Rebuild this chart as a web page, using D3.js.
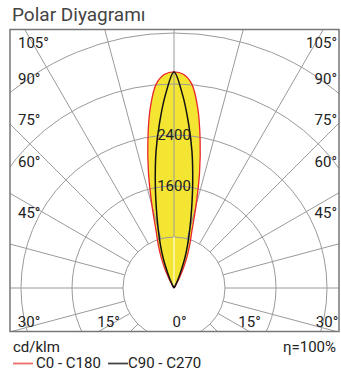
<!DOCTYPE html>
<html>
<head>
<meta charset="utf-8">
<script src="https://cdn.jsdelivr.net/npm/d3@7"></script>
<style>
  body { margin: 0; background: #fff; }
  text { font-family: Roboto, "Noto Sans", sans-serif; }
</style>
</head>
<body>
<script>
// beam data, cd/klm against angle from the axis (symmetric planes)
const angles   = [0, 2.5, 5, 7.5, 10, 12.5, 15, 17.5, 20, 22.5, 25, 27.5, 30, 32.5, 35];
const c0c180   = [3390, 3355, 3210, 2850, 2360, 1850, 1330, 930, 720, 540, 360, 200, 90, 30, 0];
const c90c270  = [3390, 3040, 2600, 2160, 1690, 1280, 960, 710, 490, 280, 150, 60, 10, 0, 0];

const ringValues = [800, 1600, 2400, 3200, 4000, 4800];
const ringLabels = [1600, 2400];
const spokeAngles = d3.range(0, 360, 15);
const sideLabels = ["105°", "90°", "75°", "60°", "45°"];
const bottomLabels = ["30°", "15°", "0°", "15°", "30°"];

const W = 341, H = 379;
const frame = {x: 10, y: 29.5, w: 329, h: 302};
const cx = 174, cy = 288;

const svg = d3.select("body").append("svg")
    .attr("width", W)
    .attr("height", H);

// title
svg.append("text")
    .attr("x", 12).attr("y", 21)
    .attr("font-size", 19)
    .attr("fill", "#444")
    .text("Polar Diyagramı");

svg.append("clipPath").attr("id", "clip")
  .append("rect")
    .attr("x", frame.x).attr("y", frame.y)
    .attr("width", frame.w).attr("height", frame.h);

const r = d3.scaleLinear().domain([0, 800]).range([0, 51]);

const plot = svg.append("g").attr("clip-path", "url(#clip)")
  .append("g")
    .attr("transform", "translate(" + cx + "," + cy + ")");

function curvePoints(vals) {
  // stop at first zero, mirror around the axis
  let n = vals.indexOf(0);
  if (n < 0) n = vals.length - 1;
  const half = d3.range(0, n + 1).map(i => [angles[i], vals[i]]);
  const left = half.slice(1).reverse().map(d => [-d[0], d[1]]);
  return left.concat(half);
}

const radial = d3.lineRadial()
    .angle(d => d[0] * Math.PI / 180)
    .radius(d => r(d[1]))
    .curve(d3.curveCatmullRom);

// fill of C0 - C180
plot.append("path")
    .attr("d", radial(curvePoints(c0c180)) + "Z")
    .attr("fill", "#f4e533");

// grid rings
plot.selectAll(".ring")
  .data(ringValues)
  .enter()
  .append("circle")
    .attr("r", d => r(d))
    .attr("fill", "none")
    .attr("stroke", "#9a9a9a")
    .attr("stroke-width", 1);

// spokes, from first ring outward
plot.selectAll(".spoke")
  .data(spokeAngles)
  .enter()
  .append("line")
    .attr("x1", d => r(800) * Math.sin(d * Math.PI / 180))
    .attr("y1", d => -r(800) * Math.cos(d * Math.PI / 180))
    .attr("x2", d => 500 * Math.sin(d * Math.PI / 180))
    .attr("y2", d => -500 * Math.cos(d * Math.PI / 180))
    .attr("stroke", "#9a9a9a")
    .attr("stroke-width", 1);

plot.append("line")
    .attr("x1", 0).attr("y1", 0)
    .attr("x2", 0).attr("y2", -r(800))
    .attr("stroke", "#fff")
    .attr("stroke-width", 1);

// curves
plot.append("path")
    .attr("d", radial(curvePoints(c0c180)))
    .attr("fill", "none")
    .attr("stroke", "#e8242c")
    .attr("stroke-width", 1.3);

plot.append("path")
    .attr("d", radial(curvePoints(c90c270)))
    .attr("fill", "none")
    .attr("stroke", "#111")
    .attr("stroke-width", 1.5);

// ring labels
plot.selectAll(".rlab")
  .data(ringLabels)
  .enter()
  .append("text")
    .attr("x", 0)
    .attr("y", d => -r(d))
    .attr("dy", "0.36em")
    .attr("text-anchor", "middle")
    .attr("font-size", 15)
    .attr("fill", "#222")
    .text(d => d);

// frame
svg.append("rect")
    .attr("x", frame.x).attr("y", frame.y)
    .attr("width", frame.w).attr("height", frame.h)
    .attr("fill", "none")
    .attr("stroke", "#777")
    .attr("stroke-width", 1.5);

// angle labels along the frame
const sideY = [48, 84, 125, 167, 218];
sideLabels.forEach(function(t, i) {
  svg.append("text").attr("x", 18).attr("y", sideY[i])
      .attr("font-size", 15).attr("fill", "#222").text(t);
  svg.append("text").attr("x", 337).attr("y", sideY[i])
      .attr("text-anchor", "end")
      .attr("font-size", 15).attr("fill", "#222").text(t);
});
const bottomX = [29, 108.5, 179.5, 249.5, 327];
bottomLabels.forEach(function(t, i) {
  svg.append("text").attr("x", bottomX[i]).attr("y", 327)
      .attr("text-anchor", "middle")
      .attr("font-size", 15).attr("fill", "#222").text(t);
});

// footer
svg.append("text").attr("x", 13).attr("y", 351.5)
    .attr("font-size", 15).attr("fill", "#222").text("cd/klm");
svg.append("text").attr("x", 336).attr("y", 351.5)
    .attr("text-anchor", "end")
    .attr("font-size", 15).attr("fill", "#222").text("η=100%");

const legend = [
  {name: "C0 - C180", color: "#f06a6a", x: 13, gap: 23},
  {name: "C90 - C270", color: "#444", x: 108, gap: 20}
];
legend.forEach(function(d) {
  svg.append("line")
      .attr("x1", d.x).attr("x2", d.x + 20)
      .attr("y1", 363.5).attr("y2", 363.5)
      .attr("stroke", d.color).attr("stroke-width", 1.8);
  svg.append("text").attr("x", d.x + d.gap).attr("y", 367.5)
      .attr("font-size", 15).attr("fill", "#222").text(d.name);
});
</script>
</body>
</html>
